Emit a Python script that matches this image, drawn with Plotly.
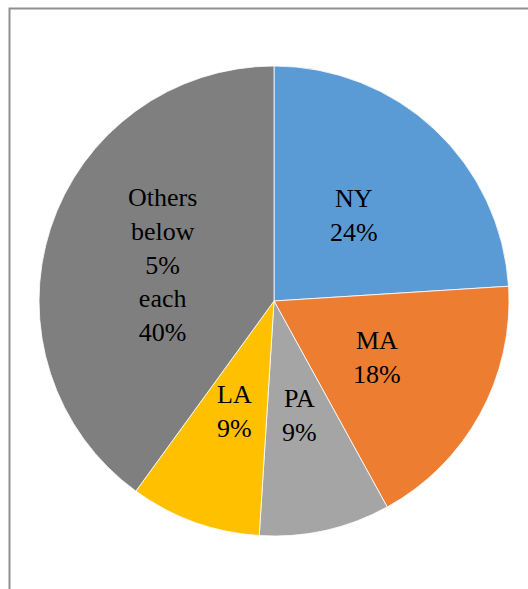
import math
import plotly.graph_objects as go

labels = ["NY", "MA", "PA", "LA", "Others<br>below<br>5%<br>each"]
values = [24, 18, 9, 9, 40]
colors = ["#5B9BD5", "#ED7D31", "#A5A5A5", "#FFC000", "#7F7F7F"]

W, H = 528, 589
cx, cy, r = 274, 301, 235
label_frac = 0.5
font_family = "Liberation Serif, Times New Roman, serif"
font_size = 26

fig = go.Figure(go.Pie(
    labels=labels,
    values=values,
    sort=False,
    direction="clockwise",
    rotation=0,
    marker=dict(colors=colors, line=dict(color="white", width=0.8)),
    textinfo="none",
    hoverinfo="skip",
    domain=dict(x=[(cx - r) / W, (cx + r) / W], y=[(H - cy - r) / H, (H - cy + r) / H]),
    showlegend=False,
))

# Labels placed at half radius along each slice's middle angle (Excel style)
total = sum(values)
annotations = []
cum = 0
for lab, v in zip(labels, values):
    mid = (cum + v / 2) / total * 2 * math.pi
    cum += v
    px = cx + label_frac * r * math.sin(mid)
    py = cy - label_frac * r * math.cos(mid)
    pct = round(v / total * 100)
    annotations.append(dict(
        x=px / W, y=1 - py / H, xref="paper", yref="paper",
        text=f"{lab}<br>{pct}%", showarrow=False,
        xanchor="center", yanchor="middle", align="center",
        font=dict(family=font_family, size=font_size, color="#000000"),
    ))

fig.update_layout(
    width=W, height=H,
    margin=dict(l=0, r=0, t=0, b=0),
    paper_bgcolor="white",
    plot_bgcolor="white",
    annotations=annotations,
    shapes=[dict(type="rect", xref="paper", yref="paper",
                 x0=9.5 / W, x1=1.02, y0=-0.02, y1=1 - 8.5 / H,
                 line=dict(color="#909090", width=2), fillcolor="rgba(0,0,0,0)")],
)

fig.write_html("out.html", config={"displayModeBar": False},
               post_script="document.body.style.margin='0';")
